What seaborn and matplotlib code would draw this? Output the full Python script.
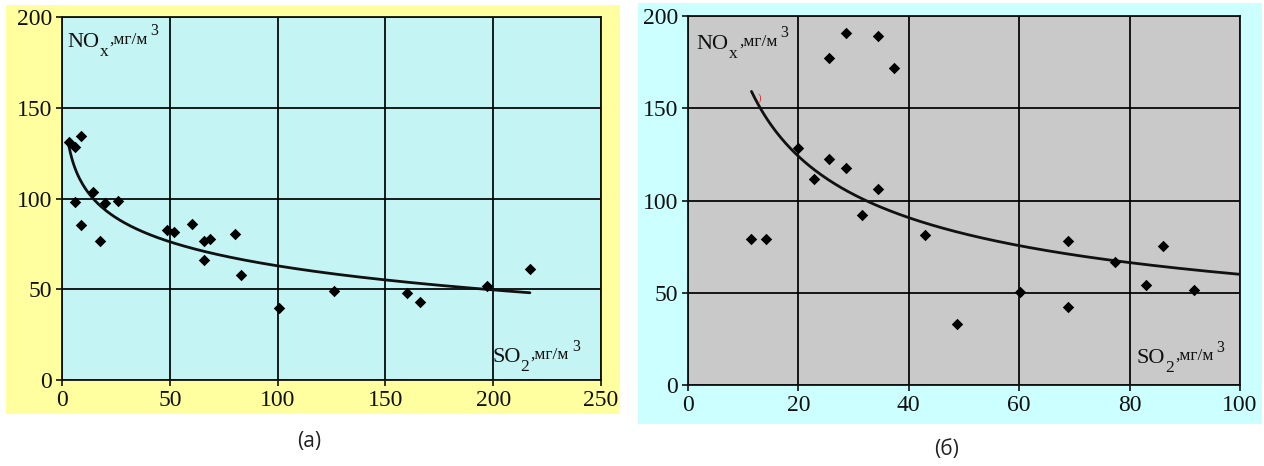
import numpy as np
import pandas as pd
import matplotlib
matplotlib.use("Agg")
import matplotlib.pyplot as plt
from matplotlib.patches import Rectangle
import seaborn as sns

# ---------------- data ----------------
left_so2 = [3.1, 6.1, 8.9, 14.2, 6.1, 8.9, 20.1, 26.1, 17.6, 48.8, 51.8, 60.1,
            66.0, 68.8, 66.0, 80.4, 83.0, 100.6, 126.2, 160.1, 166.0, 197.2, 217.2]
left_nox = [131.3, 128.5, 134.6, 103.6, 98.0, 85.4, 97.6, 98.9, 76.6, 82.6, 81.7, 85.7,
            76.6, 77.5, 66.0, 80.3, 58.0, 39.9, 48.8, 47.9, 43.0, 51.7, 61.2]

right_so2 = [11.5, 14.2, 20.0, 22.9, 25.6, 25.6, 28.6, 28.6, 31.5, 34.4, 34.4, 37.3,
             43.0, 48.7, 60.1, 68.8, 68.8, 77.3, 83.0, 86.0, 91.7]
right_nox = [79.4, 79.4, 128.5, 111.5, 122.4, 177.1, 117.4, 190.9, 91.9, 106.1, 189.4, 171.7,
             81.5, 32.8, 50.4, 77.8, 42.5, 66.8, 54.1, 75.3, 51.6]

# trendlines
left_trend_a, left_trend_b = 151.0, 19.13      # y = a - b*ln(x)
left_trend_range = (3.1, 217.0)
right_trend_c, right_trend_k = 478.8, 0.451    # y = c * x^(-k)
right_trend_range = (11.5, 100.0)

left_xticks = [0, 50, 100, 150, 200, 250]
right_xticks = [0, 20, 40, 60, 80, 100]
yticks = [0, 50, 100, 150, 200]
captions = ["(а)", "(б)"]

# ---------------- style ----------------
sns.set_style("ticks")
SERIF = ["Liberation Serif", "Times New Roman", "DejaVu Serif"]
SANS = ["Open Sans", "Noto Sans", "DejaVu Sans"]
plt.rcParams["font.family"] = "serif"
plt.rcParams["font.serif"] = SERIF

fig = plt.figure(figsize=(12.64, 4.66), dpi=100)
fig.patch.set_facecolor("white")

# panel backgrounds
fig.add_artist(Rectangle((0.00475, 0.1116), 0.4858, 0.8777, transform=fig.transFigure,
                         facecolor="#FFFFA0", edgecolor="none", zorder=0))
fig.add_artist(Rectangle((0.5047, 0.0901), 0.4937, 0.9034, transform=fig.transFigure,
                         facecolor="#CCFFFF", edgecolor="none", zorder=0))

axL = fig.add_axes([0.0491, 0.1845, 0.4264, 0.7790])
axR = fig.add_axes([0.5443, 0.1738, 0.4367, 0.7918])


def style_axes(ax, face, xmax, xticks):
    ax.set_facecolor(face)
    ax.set_xlim(0, xmax)
    ax.set_ylim(0, 200)
    ax.set_xticks(xticks)
    ax.set_yticks(yticks)
    ax.grid(True, color="black", linewidth=1.25)
    ax.set_axisbelow(True)
    for s in ax.spines.values():
        s.set_color("#111111")
        s.set_linewidth(1.3)
        s.set_visible(True)
    ax.tick_params(length=4, width=1.2, color="#111111", pad=3, labelcolor="#111111",
                   labelsize=17, labelfontfamily="serif")
    ax.set_xlabel("")
    ax.set_ylabel("")


def unit_label(ax, x, y, main, sub):
    t1 = ax.text(x, y, main, transform=ax.transAxes, fontsize=16, family="serif",
                 va="baseline", ha="left", color="#111111")
    t2 = ax.annotate(sub, xy=(1.0, 0.0), xycoords=t1, fontsize=12.5, family="serif",
                     va="center", ha="left", color="#111111")
    t3 = ax.annotate(",мг/м", xy=(1.0, 0.0), xycoords=(t2, t1),
                     xytext=(1, 3), textcoords="offset points",
                     fontsize=12.5, family="serif", va="bottom", ha="left", color="#111111")
    ax.annotate("3", xy=(1.0, 0.65), xycoords=(t3, t1), xytext=(2, 0),
                textcoords="offset points", fontsize=11.5, family="serif",
                va="bottom", ha="left", color="#111111")


# ---------------- left panel ----------------
dfL = pd.DataFrame({"so2": left_so2, "nox": left_nox})
sns.scatterplot(data=dfL, x="so2", y="nox", ax=axL, marker="D", s=34,
                color="black", edgecolor="black", linewidth=0, zorder=3)
xl = np.linspace(*left_trend_range, 300)
sns.lineplot(x=xl, y=left_trend_a - left_trend_b * np.log(xl), ax=axL,
             color="#111111", linewidth=2.0, zorder=2)
style_axes(axL, "#C4F4F4", 250, left_xticks)
unit_label(axL, 0.010, 0.918, "NO", "x")
unit_label(axL, 0.798, 0.050, "SO", "2")

# ---------------- right panel ----------------
dfR = pd.DataFrame({"so2": right_so2, "nox": right_nox})
sns.scatterplot(data=dfR, x="so2", y="nox", ax=axR, marker="D", s=34,
                color="black", edgecolor="black", linewidth=0, zorder=3)
xr = np.linspace(*right_trend_range, 300)
sns.lineplot(x=xr, y=right_trend_c * xr ** (-right_trend_k), ax=axR,
             color="#111111", linewidth=2.0, zorder=2)
style_axes(axR, "#C9C9C9", 100, right_xticks)
axR.text(12.6, 155.5, ")", fontsize=8, color="#E03030", family="serif",
         ha="left", va="center")
unit_label(axR, 0.016, 0.912, "NO", "x")
unit_label(axR, 0.813, 0.060, "SO", "2")

# captions
fig.text(309 / 1264, 1 - 441 / 466, captions[0], family=SANS, fontsize=15,
         ha="center", va="center", color="#222222")
fig.text(947 / 1264, 1 - 450 / 466, captions[1], family=SANS, fontsize=15,
         ha="center", va="center", color="#222222")

for ax in (axL, axR):
    for lab in ax.get_xticklabels() + ax.get_yticklabels():
        lab.set_fontfamily("serif")

fig.savefig("out.png", dpi=100, facecolor="white")
